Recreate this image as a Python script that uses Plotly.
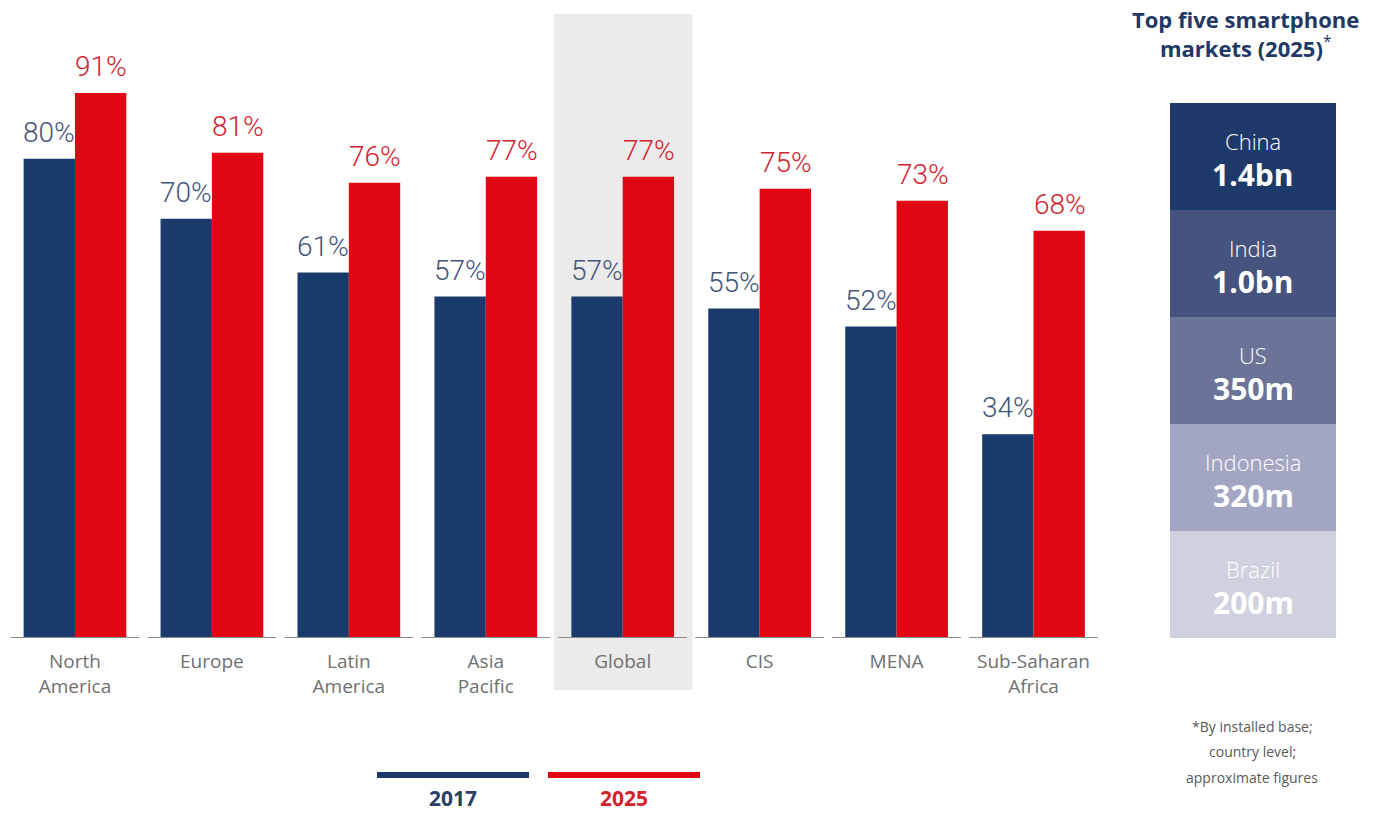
import plotly.graph_objects as go

# Smartphone adoption by region
regions = ["North<br>America", "Europe", "Latin<br>America", "Asia<br>Pacific",
           "Global", "CIS", "MENA", "Sub-Saharan<br>Africa"]
adoption_2017 = [80, 70, 61, 57, 57, 55, 52, 34]
adoption_2025 = [91, 81, 76, 77, 77, 75, 73, 68]
highlight_region = "Global"

# Top five smartphone markets (2025)
markets = ["China", "India", "US", "Indonesia", "Brazil"]
market_sizes = ["1.4bn", "1.0bn", "350m", "320m", "200m"]
market_colors = ["#1d3a6b", "#46537f", "#6c7399", "#a3a6c3", "#d0d1de"]

years = ["2017", "2025"]
NAVY = "#1b3a6c"
RED = "#e10613"
NAVY_TXT = "#445577"
RED_TXT = "#d2232f"
COND = "Roboto, Liberation Sans Narrow, sans-serif"
SANS = "Open Sans, Noto Sans, sans-serif"

W, H = 1393, 813
TOP, BASE = 39, 638          # pixel rows of the plot-area top and the bar baseline
PLOT_H = BASE - TOP


def py(pix):
    """paper y for a pixel row"""
    return (BASE - pix) / PLOT_H


fig = go.Figure()

fig.add_trace(go.Bar(x=regions, y=adoption_2017, name=years[0],
                     marker=dict(color=NAVY, line=dict(width=0))))
fig.add_trace(go.Bar(x=regions, y=adoption_2025, name=years[1],
                     marker=dict(color=RED, line=dict(width=0))))

# value labels above each bar
for vals, color, shift in ((adoption_2017, NAVY_TXT, -0.19), (adoption_2025, RED_TXT, 0.19)):
    for i, v in enumerate(vals):
        fig.add_annotation(x=i + shift, y=v, xref="x", yref="y", text=f"{v}%",
                           showarrow=False, xanchor="center", yanchor="bottom", yshift=8,
                           font=dict(family=COND, size=28, color=color, weight=300))

# shaded column behind the global average
gi = regions.index(highlight_region)
fig.add_shape(type="rect", xref="x", yref="paper", x0=gi - 0.5, x1=gi + 0.51,
              y0=py(690), y1=py(14), fillcolor="#ebebeb", line=dict(width=0), layer="below")

# short baseline under each group
for i in range(len(regions)):
    fig.add_shape(type="line", xref="x", yref="y", x0=i - 0.47, x1=i + 0.47, y0=0, y1=0,
                  line=dict(color="#8c8c8c", width=2))

# market panel: equal-height stacked blocks
n = len(markets)
fig.add_trace(go.Bar(x=[0] * n, y=[1] * n, base=list(range(n - 1, -1, -1)),
                     width=1, marker=dict(color=market_colors, line=dict(width=0)),
                     xaxis="x2", yaxis="y2", showlegend=False, hoverinfo="skip"))
for i, (m, s) in enumerate(zip(markets, market_sizes)):
    mid = n - 1 - i + 0.5
    fig.add_annotation(x=0, y=mid, xref="x2", yref="y2", text=m, showarrow=False,
                       xanchor="center", yanchor="middle", yshift=16,
                       font=dict(family=SANS, size=22, color="white", weight=300))
    fig.add_annotation(x=0, y=mid, xref="x2", yref="y2", text=f"<b>{s}</b>", showarrow=False,
                       xanchor="center", yanchor="middle", yshift=-18,
                       font=dict(family=SANS, size=30, color="white"))

fig.add_annotation(x=1245 / W, y=py(33), xref="paper", yref="paper",
                   xanchor="center", yanchor="middle",
                   text="<b>Top five smartphone<br>markets (2025)</b><sup>*</sup>",
                   showarrow=False, align="center",
                   font=dict(family=SANS, size=22, color="#1f3864"))

footnote_lines = ["*By installed base;", "country level;", "approximate figures"]
for k, line in enumerate(footnote_lines):
    fig.add_annotation(x=1252 / W, y=py(726 + 25.5 * k), xref="paper", yref="paper",
                       xanchor="center", yanchor="middle",
                       text=line, showarrow=False,
                       font=dict(family=SANS, size=14, color="#5a5a5a"))

# legend: coloured bars with year labels beneath
for j, (yr, col, tcol) in enumerate(((years[0], NAVY, "#2b3e67"), (years[1], RED, RED_TXT))):
    x0 = (377 + 171 * j) / W
    x1 = (529 + 171 * j) / W
    fig.add_shape(type="line", xref="paper", yref="paper", x0=x0, x1=x1,
                  y0=py(775), y1=py(775), line=dict(color=col, width=6))
    fig.add_annotation(x=(x0 + x1) / 2, y=py(798), xref="paper", yref="paper",
                       xanchor="center", yanchor="middle",
                       text=f"<b>{yr}</b>", showarrow=False,
                       font=dict(family=SANS, size=21, color=tcol))

fig.update_layout(
    width=W, height=H,
    margin=dict(l=0, r=0, t=TOP, b=H - BASE),
    paper_bgcolor="white", plot_bgcolor="rgba(0,0,0,0)",
    barmode="group", bargap=0.25, bargroupgap=0,
    showlegend=False,
    xaxis=dict(domain=[6.5 / W, 1102 / W], range=[-0.5, 7.5], showgrid=False,
               zeroline=False, showline=False, ticks="", ticklabelstandoff=10,
               tickfont=dict(family=SANS, size=19, color="#707070")),
    yaxis=dict(range=[0, 100], visible=False),
    xaxis2=dict(domain=[1170 / W, 1336 / W], range=[-0.5, 0.5], visible=False),
    yaxis2=dict(domain=[0, py(103)], range=[0, n], visible=False),
)

fig.write_html("out.html")
